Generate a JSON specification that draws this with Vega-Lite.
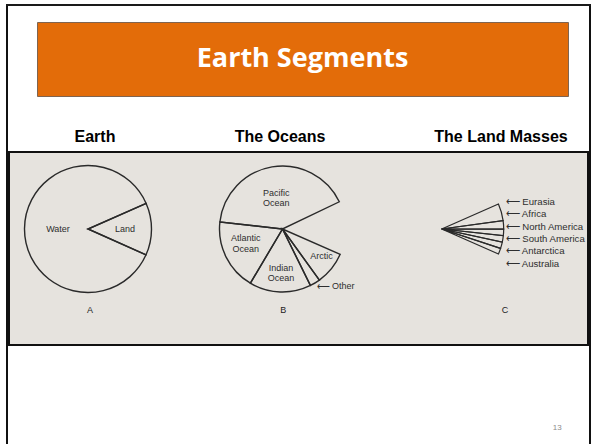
{
  "$schema": "https://vega.github.io/schema/vega-lite/v6.json",
  "padding": {"left": 6, "top": 4, "right": 0, "bottom": 0},
  "background": "white",
  "config": {"view": {"stroke": null}, "font": "Liberation Sans", "text": {"font": "Liberation Sans"}},
  "spacing": 0,
  "vconcat": [
    {"width": 585, "height": 2, "data": {"values": []}, "mark": "rect", "view": {"fill": "#1a1a1a"}},
    {
      "spacing": 0,
      "hconcat": [
        {"width": 2, "height": 438, "data": {"values": []}, "mark": "rect", "view": {"fill": "#111111"}},
        {
          "spacing": 0,
          "vconcat": [
            {"width": 1, "height": 15, "data": {"values": []}, "mark": "rect"},
            {
              "spacing": 0,
              "hconcat": [
                {"width": 28, "height": 74, "data": {"values": []}, "mark": "rect"},
                {
                  "width": 531,
                  "height": 74,
                  "view": {"fill": "#E36C09", "stroke": "#7f6450", "strokeWidth": 1},
                  "data": {"values": [{"title": "Earth Segments"}]},
                  "mark": {"type": "text", "font": "Open Sans", "fontWeight": "bold", "fontSize": 27, "fill": "white"},
                  "encoding": {"text": {"field": "title", "type": "nominal"}}
                }
              ]
            },
            {
              "spacing": 0,
              "hconcat": [
                {
                  "width": 174, "height": 54,
                  "data": {"values": [{"header": "Earth"}]},
                  "mark": {"type": "text", "fontWeight": "bold", "fontSize": 16, "baseline": "alphabetic", "dy": 18, "fill": "black"},
                  "encoding": {"text": {"field": "header", "type": "nominal"}}
                },
                {
                  "width": 196, "height": 54,
                  "data": {"values": [{"header": "The Oceans"}]},
                  "mark": {"type": "text", "fontWeight": "bold", "fontSize": 16, "baseline": "alphabetic", "dy": 18, "fill": "black"},
                  "encoding": {"text": {"field": "header", "type": "nominal"}}
                },
                {
                  "width": 211, "height": 54,
                  "data": {"values": [{"header": "The Land Masses"}]},
                  "mark": {"type": "text", "fontWeight": "bold", "fontSize": 16, "baseline": "alphabetic", "dy": 18, "dx": 17.5, "fill": "black"},
                  "encoding": {"text": {"field": "header", "type": "nominal"}}
                }
              ]
            },
            {
              "spacing": 0,
              "vconcat": [
                {"width": 581, "height": 2, "data": {"values": []}, "mark": "rect", "view": {"fill": "#111111"}},
                {
                  "spacing": 0,
                  "hconcat": [
                    {"width": 2, "height": 191, "data": {"values": []}, "mark": "rect", "view": {"fill": "#111111"}},
                    {
                      "spacing": 0,
                      "vconcat": [
                        {
                          "spacing": 0,
                          "hconcat": [
                            {
                              "width": 156,
                              "height": 152,
                              "view": {"fill": "#e6e3de"},
                              "data": {"values": [
                                {"chart": "A", "slice": "Land", "share": 13.25, "order": 1, "label": "Land"},
                                {"chart": "A", "slice": "Water", "share": 86.75, "order": 2, "label": "Water"}
                              ]},
                              "encoding": {
                                "theta": {"field": "share", "type": "quantitative", "stack": true, "scale": {"domain": [0, 100], "range": [1.1572, 7.4404]}},
                                "order": {"field": "order", "type": "quantitative"}
                              },
                              "layer": [
                                {"mark": {"type": "arc", "radius": 63.5, "fill": "transparent", "stroke": "#2a2a2a", "strokeWidth": 1.4}},
                                {
                                  "mark": {"type": "text", "radius": 30, "fontSize": 9, "fill": "#2e2e2e"},
                                  "encoding": {"text": {"condition": {"test": "datum.slice === 'Water'", "field": "label", "type": "nominal"}, "value": ""}}
                                },
                                {
                                  "mark": {"type": "text", "radius": 37, "fontSize": 9, "fill": "#2e2e2e"},
                                  "encoding": {"text": {"condition": {"test": "datum.slice === 'Land'", "field": "label", "type": "nominal"}, "value": ""}}
                                }
                              ]
                            },
                            {
                              "width": 233,
                              "height": 152,
                              "view": {"fill": "#e6e3de"},
                              "data": {"values": [
                                {"chart": "B", "slice": "Pacific", "share": 41.11, "order": 1, "label": "Pacific\nOcean"},
                                {"chart": "B", "slice": "Land", "share": 13.69, "order": 2, "label": ""},
                                {"chart": "B", "slice": "Arctic", "share": 8.47, "order": 3, "label": "Arctic"},
                                {"chart": "B", "slice": "Other", "share": 2.64, "order": 4, "label": "⟵ Other"},
                                {"chart": "B", "slice": "Indian", "share": 15.83, "order": 5, "label": "Indian\nOcean"},
                                {"chart": "B", "slice": "Atlantic", "share": 18.25, "order": 6, "label": "Atlantic\nOcean"}
                              ]},
                              "encoding": {
                                "theta": {"field": "share", "type": "quantitative", "stack": true, "scale": {"domain": [0, 100], "range": [4.8241, 11.1073]}},
                                "order": {"field": "order", "type": "quantitative"}
                              },
                              "layer": [
                                {
                                  "mark": {"type": "arc", "radius": 63, "fill": "transparent", "stroke": "#2a2a2a", "strokeWidth": 1.4},
                                  "encoding": {"strokeOpacity": {"condition": {"test": "datum.slice === 'Land'", "value": 0}, "value": 1}}
                                },
                                {
                                  "mark": {"type": "text", "radius": 37, "fontSize": 9, "fill": "#2e2e2e", "lineBreak": "\n", "lineHeight": 10.5},
                                  "encoding": {"text": {"condition": {"test": "datum.slice === 'Pacific'", "field": "label", "type": "nominal"}, "value": ""}}
                                },
                                {
                                  "mark": {"type": "text", "radius": 41, "dy": -9, "fontSize": 9, "fill": "#2e2e2e", "lineBreak": "\n", "lineHeight": 10.5},
                                  "encoding": {"text": {"condition": {"test": "datum.slice === 'Atlantic'", "field": "label", "type": "nominal"}, "value": ""}}
                                },
                                {
                                  "mark": {"type": "text", "radius": 39, "fontSize": 9, "fill": "#2e2e2e", "lineBreak": "\n", "lineHeight": 10.5},
                                  "encoding": {"text": {"condition": {"test": "datum.slice === 'Indian'", "field": "label", "type": "nominal"}, "value": ""}}
                                },
                                {
                                  "mark": {"type": "text", "radius": 50, "dy": -4, "fontSize": 9, "fill": "#2e2e2e"},
                                  "encoding": {"text": {"condition": {"test": "datum.slice === 'Arctic'", "field": "label", "type": "nominal"}, "value": ""}}
                                },
                                {
                                  "mark": {"type": "text", "radius": 66, "fontSize": 9, "fill": "#2e2e2e", "align": "left"},
                                  "encoding": {"text": {"condition": {"test": "datum.slice === 'Other'", "field": "label", "type": "nominal"}, "value": ""}}
                                }
                              ]
                            },
                            {
                              "width": 188,
                              "height": 152,
                              "view": {"fill": "#e6e3de"},
                              "data": {"values": [
                                {"chart": "C", "slice": "Eurasia", "share": 4.44, "order": 1, "label": "⟵ Eurasia"},
                                {"chart": "C", "slice": "Africa", "share": 2.22, "order": 2, "label": "⟵ Africa"},
                                {"chart": "C", "slice": "North America", "share": 1.67, "order": 3, "label": "⟵ North America"},
                                {"chart": "C", "slice": "South America", "share": 1.67, "order": 4, "label": "⟵ South America"},
                                {"chart": "C", "slice": "Antarctica", "share": 1.67, "order": 5, "label": "⟵ Antarctica"},
                                {"chart": "C", "slice": "Australia", "share": 1.53, "order": 6, "label": "⟵ Australia"},
                                {"chart": "C", "slice": "Water", "share": 86.8, "order": 7, "label": ""}
                              ]},
                              "transform": [{"filter": "datum.slice !== 'Water'"}],
                              "encoding": {
                                "x": {"field": "chart", "type": "nominal", "scale": {"type": "point", "padding": 0.5, "align": 0.2271}, "axis": null}
                              },
                              "layer": [
                                {
                                  "mark": {"type": "arc", "radius": 62, "fill": "transparent", "stroke": "#2a2a2a", "strokeWidth": 1.2},
                                  "encoding": {
                                    "theta": {"field": "share", "type": "quantitative", "stack": true, "scale": {"domain": [0, 100], "range": [1.1554, 7.4386]}},
                                    "order": {"field": "order", "type": "quantitative"}
                                  }
                                },
                                {
                                  "mark": {"type": "text", "align": "left", "dx": 64, "fontSize": 9.6, "fill": "#2e2e2e"},
                                  "encoding": {
                                    "y": {"field": "order", "type": "quantitative", "scale": {"domain": [-2.971, 9.347], "reverse": true, "zero": false, "nice": false}, "axis": null},
                                    "text": {"field": "label", "type": "nominal"}
                                  }
                                }
                              ]
                            }
                          ]
                        },
                        {
                          "spacing": 0,
                          "hconcat": [
                            {
                              "width": 156, "height": 39, "view": {"fill": "#e6e3de"},
                              "data": {"values": [{"letter": "A"}]},
                              "mark": {"type": "text", "fontSize": 9, "fill": "#222222", "dx": 2, "dy": -14.5},
                              "encoding": {"text": {"field": "letter", "type": "nominal"}}
                            },
                            {
                              "width": 233, "height": 39, "view": {"fill": "#e6e3de"},
                              "data": {"values": [{"letter": "B"}]},
                              "mark": {"type": "text", "fontSize": 9, "fill": "#222222", "dx": 0.8, "dy": -14.5},
                              "encoding": {"text": {"field": "letter", "type": "nominal"}}
                            },
                            {
                              "width": 188, "height": 39, "view": {"fill": "#e6e3de"},
                              "data": {"values": [{"letter": "C"}]},
                              "mark": {"type": "text", "fontSize": 9, "fill": "#222222", "dx": 12, "dy": -14.5},
                              "encoding": {"text": {"field": "letter", "type": "nominal"}}
                            }
                          ]
                        }
                      ]
                    },
                    {"width": 2, "height": 191, "data": {"values": []}, "mark": "rect", "view": {"fill": "#111111"}}
                  ]
                },
                {"width": 581, "height": 2, "data": {"values": []}, "mark": "rect", "view": {"fill": "#111111"}}
              ]
            },
            {
              "width": 581,
              "height": 99,
              "data": {"values": [{"page": "13"}]},
              "mark": {"type": "text", "fontSize": 8, "fill": "#8c8c8c", "dx": 258.8, "dy": 32},
              "encoding": {"text": {"field": "page", "type": "nominal"}}
            }
          ]
        },
        {"width": 2, "height": 438, "data": {"values": []}, "mark": "rect", "view": {"fill": "#111111"}}
      ]
    }
  ]
}
